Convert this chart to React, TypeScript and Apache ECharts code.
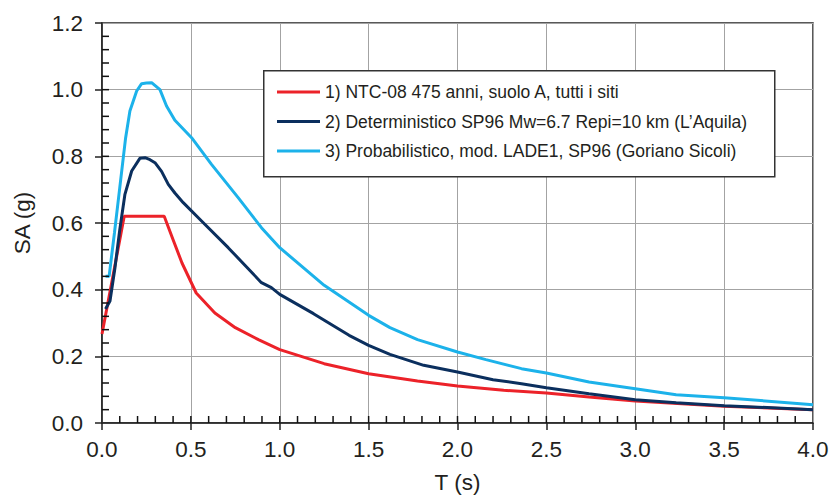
import React, { useEffect, useRef } from "react";
import * as echarts from "echarts";

const seriesNames = [
  "1) NTC-08 475 anni, suolo A, tutti i siti",
  "2) Deterministico SP96 Mw=6.7 Repi=10 km (L’Aquila)",
  "3) Probabilistico, mod. LADE1, SP96 (Goriano Sicoli)",
];
const seriesColors = ["#ec2229", "#0b2f5e", "#1cb2ea"];

const ntcT = [0, 0.125, 0.35, 0.4, 0.45, 0.53, 0.635, 0.75, 0.88, 1.0, 1.25, 1.5, 1.775, 2.0, 2.26, 2.5, 2.74, 3.0, 3.5, 4.0];
const ntcSA = [0.267, 0.62, 0.62, 0.55, 0.48, 0.39, 0.33, 0.286, 0.25, 0.22, 0.178, 0.148, 0.126, 0.111, 0.098, 0.09, 0.078, 0.066, 0.05, 0.04];

const detT = [0.02, 0.045, 0.073, 0.1, 0.129, 0.167, 0.213, 0.242, 0.27, 0.298, 0.335, 0.373, 0.41, 0.457, 0.56, 0.71, 0.897, 0.953, 1.0, 1.19, 1.39, 1.5, 1.62, 1.81, 2.0, 2.2, 2.36, 2.5, 2.74, 3.0, 3.23, 3.5, 4.0];
const detSA = [0.342, 0.366, 0.466, 0.58, 0.686, 0.756, 0.794, 0.796, 0.79, 0.781, 0.755, 0.716, 0.69, 0.661, 0.606, 0.526, 0.421, 0.406, 0.386, 0.328, 0.263, 0.233, 0.206, 0.173, 0.153, 0.13, 0.118, 0.106, 0.088, 0.07, 0.061, 0.052, 0.04];

const probT = [0.02, 0.04, 0.07, 0.1, 0.133, 0.157, 0.195, 0.223, 0.25, 0.279, 0.326, 0.363, 0.41, 0.504, 0.616, 0.766, 0.897, 1.0, 1.25, 1.5, 1.62, 1.775, 2.0, 2.16, 2.36, 2.5, 2.74, 3.0, 3.23, 3.5, 4.0];
const probSA = [0.44, 0.44, 0.57, 0.706, 0.856, 0.936, 0.996, 1.018, 1.02, 1.021, 1.0, 0.951, 0.908, 0.856, 0.776, 0.676, 0.586, 0.526, 0.413, 0.323, 0.286, 0.25, 0.213, 0.19, 0.163, 0.15, 0.123, 0.103, 0.085, 0.076, 0.055];

const xTicks = { min: 0, max: 4, major: 0.5, minorCount: 40 };
const yTicks = { min: 0, max: 1.2, major: 0.2, minorCount: 30 };

const FONT = "Liberation Sans";
const TEXT = "#231f20";

export default function App() {
  const ref = useRef<HTMLDivElement>(null);
  useEffect(() => {
    if (!ref.current) return;
    const chart = echarts.init(ref.current, null, { renderer: "svg" });
    const pairs = (t: number[], v: number[]) => t.map((x, i) => [x, v[i]]);
    const datasets = [pairs(ntcT, ntcSA), pairs(detT, detSA), pairs(probT, probSA)];
    const xMinor: number[][] = [];
    for (let i = 1; i < xTicks.minorCount; i++) xMinor.push([(xTicks.max * i) / xTicks.minorCount, 0]);
    const yMinor: number[][] = [];
    for (let i = 1; i < yTicks.minorCount; i++) yMinor.push([0, (yTicks.max * i) / yTicks.minorCount]);
    const TICK = 7;
    chart.setOption({
      animation: false,
      backgroundColor: "#ffffff",
      textStyle: { fontFamily: FONT, color: TEXT },
      grid: {
        left: 102, top: 23, right: 21, bottom: 79,
        show: true, borderColor: "#222", borderWidth: 1.5, backgroundColor: "transparent",
      },
      xAxis: {
        type: "value", min: xTicks.min, max: xTicks.max, interval: xTicks.major,
        name: "T (s)", nameLocation: "middle", nameGap: 48,
        nameTextStyle: { fontSize: 22.5, color: TEXT, fontFamily: FONT },
        axisLine: { show: true, lineStyle: { color: "#222", width: 1.5 } },
        axisTick: { show: true, inside: false, length: 7, lineStyle: { color: "#222", width: 1.5 } },
        axisLabel: { fontSize: 22.5, color: TEXT, margin: 15, fontFamily: FONT, formatter: (v: number) => v.toFixed(1) },
        splitLine: { show: true, lineStyle: { color: "#a3a3a3", width: 1 } },
      },
      yAxis: {
        type: "value", min: yTicks.min, max: yTicks.max, interval: yTicks.major,
        name: "SA (g)", nameLocation: "middle", nameGap: 68,
        nameTextStyle: { fontSize: 22.5, color: TEXT, fontFamily: FONT },
        axisLine: { show: true, lineStyle: { color: "#222", width: 1.5 } },
        axisTick: { show: true, inside: false, length: 7, lineStyle: { color: "#222", width: 1.5 } },
        axisLabel: { fontSize: 22.5, color: TEXT, margin: 19, fontFamily: FONT, formatter: (v: number) => v.toFixed(1) },
        splitLine: { show: true, lineStyle: { color: "#a3a3a3", width: 1 } },
      },
      graphic: [
        {
          type: "rect", left: 263, top: 70, z: 3,
          shape: { width: 511, height: 106 },
          style: { fill: "#ffffff", stroke: "#333", lineWidth: 1.5 },
        },
      ],
      legend: {
        orient: "vertical", left: 277, top: 82, z: 10, padding: 0,
        icon: "rect", itemWidth: 43, itemHeight: 3, itemGap: 9.5,
        textStyle: { fontSize: 17.5, color: TEXT, fontFamily: FONT, lineHeight: 20 },
        data: seriesNames,
      },
      series: [
        ...seriesNames.map((name, i) => ({
          name, type: "line", data: datasets[i], showSymbol: false, symbol: "none", z: 2,
          lineStyle: { color: seriesColors[i], width: 3 }, itemStyle: { color: seriesColors[i] },
        })),
        {
          type: "scatter", name: "xMinorTicks", silent: true, clip: false, z: 5,
          data: xMinor, symbol: "rect", symbolSize: [1.5, TICK], symbolOffset: [0, -TICK / 2],
          itemStyle: { color: "#111", opacity: 1 },
        },
        {
          type: "scatter", name: "yMinorTicks", silent: true, clip: false, z: 5,
          data: yMinor, symbol: "rect", symbolSize: [TICK, 1.5], symbolOffset: [TICK / 2, 0],
          itemStyle: { color: "#111", opacity: 1 },
        },
      ],
    });
    return () => chart.dispose();
  }, []);
  return <div ref={ref} style={{ width: 834, height: 502, position: "absolute", left: 0, top: 0 }} />;
}
